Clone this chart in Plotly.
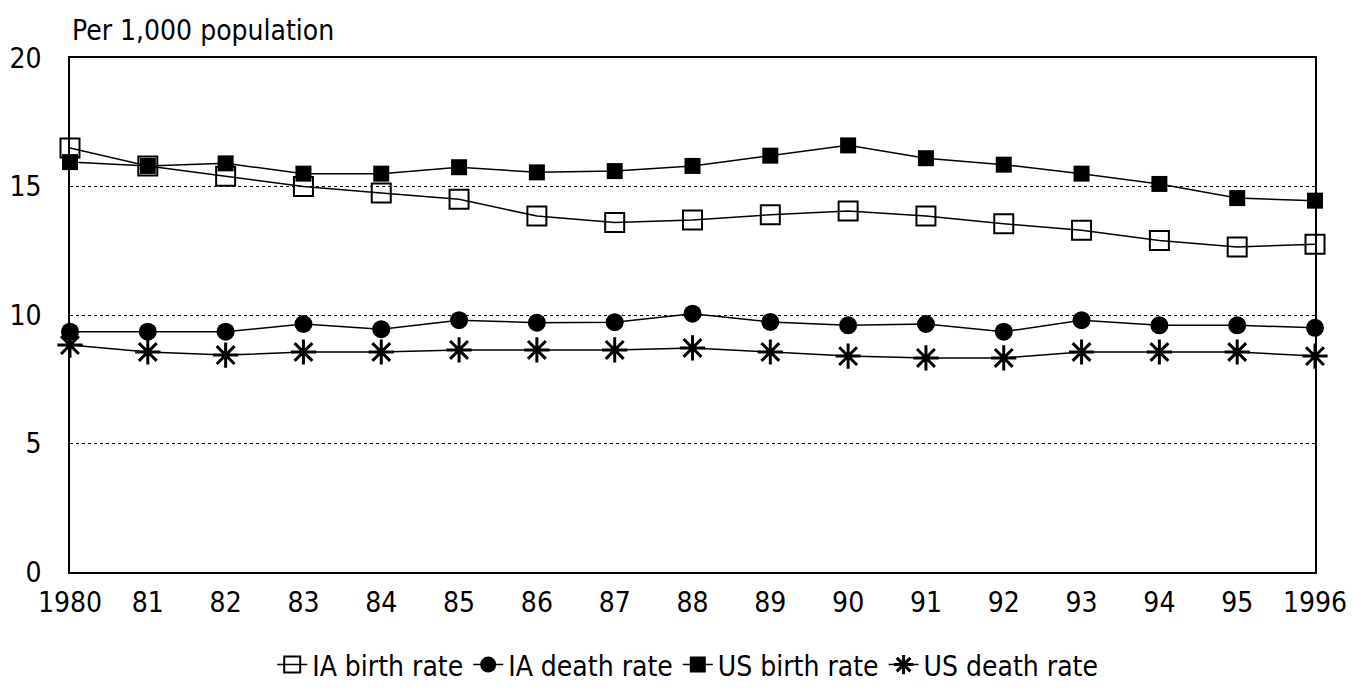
import plotly.graph_objects as go

years = list(range(1980, 1997))
tick_labels = ["1980", "81", "82", "83", "84", "85", "86", "87", "88", "89",
               "90", "91", "92", "93", "94", "95", "1996"]

ia_birth = [16.5, 15.8, 15.4, 15.0, 14.75, 14.5, 13.85, 13.6, 13.7, 13.9,
            14.05, 13.85, 13.55, 13.3, 12.9, 12.65, 12.75]
ia_death = [9.35, 9.35, 9.35, 9.65, 9.45, 9.8, 9.7, 9.72, 10.05, 9.73,
            9.6, 9.65, 9.35, 9.8, 9.6, 9.6, 9.5]
us_birth = [15.95, 15.8, 15.9, 15.5, 15.5, 15.75, 15.55, 15.6, 15.8, 16.2,
            16.6, 16.1, 15.85, 15.5, 15.1, 14.55, 14.45]
us_death = [8.83, 8.56, 8.44, 8.56, 8.56, 8.64, 8.64, 8.64, 8.72, 8.56,
            8.4, 8.33, 8.33, 8.56, 8.56, 8.56, 8.4]

FONT = "DejaVu Sans Condensed, Liberation Sans Narrow, Arial Narrow, sans-serif"

fig = go.Figure()
line = dict(color="black", width=1.5)
fig.add_trace(go.Scatter(x=years, y=ia_birth, name="IA birth rate", mode="lines+markers",
                         line=line, cliponaxis=False,
                         marker=dict(symbol="square-open", size=19, color="black",
                                     line=dict(width=2))))
fig.add_trace(go.Scatter(x=years, y=ia_death, name="IA death rate", mode="lines+markers",
                         line=line, cliponaxis=False,
                         marker=dict(symbol="circle", size=18, color="black")))
fig.add_trace(go.Scatter(x=years, y=us_birth, name="US birth rate", mode="lines+markers",
                         line=line, cliponaxis=False,
                         marker=dict(symbol="square", size=16, color="black")))
fig.add_trace(go.Scatter(x=years, y=us_death, name="US death rate", mode="lines+markers",
                         line=line, cliponaxis=False,
                         marker=dict(symbol="asterisk-open", size=21, color="black",
                                     line=dict(width=3, color="black"))))

fig.update_layout(
    width=1354, height=685,
    margin=dict(l=62, r=47, t=50, b=121),
    paper_bgcolor="white", plot_bgcolor="white",
    font=dict(family=FONT, size=28, color="black"),
    showlegend=True,
    legend=dict(orientation="h", x=0.502, xanchor="center", xref="container",
                y=0.041, yanchor="middle", yref="container",
                font=dict(size=28), itemwidth=30, tracegroupgap=0),
    xaxis=dict(range=[1980, 1996], tickvals=years, ticktext=tick_labels,
               showgrid=False, zeroline=False, showline=True, linecolor="black",
               linewidth=1.5, mirror=True, ticks="", ticklabelstandoff=5,
               automargin=False),
    yaxis=dict(range=[0, 20], tickvals=[0, 5, 10, 15, 20], showgrid=True,
               gridcolor="black", griddash="dot", gridwidth=1,
               zeroline=False, showline=True, linecolor="black", linewidth=1.5,
               mirror=True, ticks="", ticklabelstandoff=21, automargin=False),
    annotations=[dict(text="Per 1,000 population", xref="paper", yref="paper",
                      x=0, y=1, xanchor="left", yanchor="bottom", yshift=9,
                      showarrow=False, font=dict(size=28))],
)

fig.write_html("out.html")
